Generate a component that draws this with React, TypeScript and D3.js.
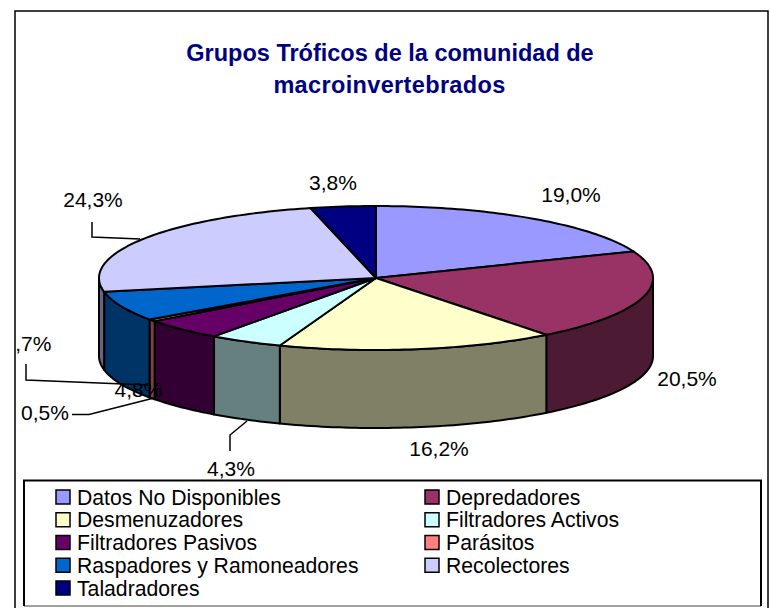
import React from 'react'
import * as d3 from 'd3'

const categories = [
  'Datos No Disponibles',
  'Depredadores',
  'Desmenuzadores',
  'Filtradores Activos',
  'Filtradores Pasivos',
  'Parásitos',
  'Raspadores y Ramoneadores',
  'Recolectores',
  'Taladradores',
]
const values = [19.0, 20.5, 16.2, 4.3, 4.8, 0.5, 6.7, 24.3, 3.8]
const topColors = ['#9999ff', '#993366', '#ffffcc', '#ccffff', '#660066', '#ff8080', '#0066cc', '#ccccff', '#000080']
const sideColors = ['#4d4d80', '#4d1a33', '#808066', '#668080', '#330033', '#804040', '#003366', '#666680', '#000040']

// label anchor (text middle / baseline) and leader polyline, per slice
const labelPos = [
  [571, 202], [687, 386], [439, 456], [231, 476], [138.5, 397], [45, 420], [27.5, 351], [93, 207], [333, 190],
]
const leaders: number[][][] = [
  [], [], [],
  [[247, 421], [230, 435], [230, 451]],
  [],
  [[154, 398], [89, 414.5], [72, 414.5]],
  [[148, 385], [26, 380], [26, 364]],
  [[140, 239], [92, 237], [92, 222]],
  [],
]

const cx = 376
const cy = 278
const rx = 277
const ry = 72
const depth = 78
const font = '"Liberation Sans", Arial, sans-serif'

const fmt = (v: number) => v.toFixed(1).replace('.', ',') + '%'
const px = (a: number) => cx + rx * Math.sin(a)
const py = (a: number) => cy - ry * Math.cos(a)

export default function App() {
  const slices = d3.pie<number>().sort(null)(values)
  const edge = d3.line<number>().x(px).y(py)
  const lowerEdge = d3.line<number>().x(px).y(a => py(a) + depth)
  const legendX = d3.scalePoint<number>().domain([0, 1]).range([56, 425])
  const legendY = d3.scaleLinear().domain([0, 4]).range([497, 588])

  const arcAngles = (a0: number, a1: number) => {
    const n = Math.max(2, Math.ceil((a1 - a0) / 0.02))
    return d3.range(n + 1).map(i => a0 + ((a1 - a0) * i) / n)
  }
  const walls = slices
    .map((s, i) => ({ i, a0: Math.max(s.startAngle, Math.PI / 2), a1: Math.min(s.endAngle, (3 * Math.PI) / 2) }))
    .filter(w => w.a1 > w.a0)

  return (
    <svg width={770} height={608} style={{ position: 'absolute', left: 0, top: 0, background: '#fff' }}>
      <defs>
        <clipPath id="frame">
          <rect x={16.5} y={12} width={750} height={596} />
        </clipPath>
      </defs>
      <path d="M15,620V11H768V620" fill="#fff" stroke="#000" strokeWidth={1.5} />

      <g fontFamily={font} fontWeight="bold" fontSize={23.5} fill="#000080" textAnchor="middle">
        <text x={390} y={61}>Grupos Tróficos de la comunidad de</text>
        <text x={389.5} y={93} letterSpacing={0.35}>macroinvertebrados</text>
      </g>

      {walls.map(w => {
        const top = arcAngles(w.a0, w.a1)
        const bottom = lowerEdge(top.slice().reverse()) as string
        return (
          <path
            key={w.i}
            d={`${edge(top)}L${bottom.slice(1)}Z`}
            fill={sideColors[w.i]}
            stroke="#000"
            strokeWidth={2}
            strokeLinejoin="round"
          />
        )
      })}

      {slices.map((s, i) => (
        <path
          key={i}
          d={`M${cx},${cy}L${(edge(arcAngles(s.startAngle, s.endAngle)) as string).slice(1)}Z`}
          fill={topColors[i]}
          stroke="#000"
          strokeWidth={2}
          strokeLinejoin="round"
        />
      ))}

      <g clipPath="url(#frame)">
        {leaders.map((pts, i) =>
          pts.length ? <polyline key={i} points={pts.join(' ')} fill="none" stroke="#000" strokeWidth={1.5} /> : null,
        )}
        <g fontFamily={font} fontSize={21} fill="#000" textAnchor="middle">
          {values.map((v, i) => (
            <text key={i} x={labelPos[i][0]} y={labelPos[i][1]}>{fmt(v)}</text>
          ))}
        </g>
      </g>

      <rect x={24} y={480} width={737} height={126} fill="#fff" />
      <line x1={24} x2={761} y1={606} y2={606} stroke="#808080" strokeWidth={1.5} />
      <path d="M24,606V480.5H761V606" fill="none" stroke="#000" strokeWidth={2} />
      <g fontFamily={font} fontSize={21.2} fill="#000">
        {categories.map((c, i) => {
          const x = legendX(i % 2) as number
          const y = legendY(Math.floor(i / 2))
          return (
            <g key={c}>
              <rect x={x} y={y - 7} width={14} height={14} fill={topColors[i]} stroke="#000" strokeWidth={1.5} />
              <text x={x + 21} y={y + 7.5}>{c}</text>
            </g>
          )
        })}
      </g>
    </svg>
  )
}
